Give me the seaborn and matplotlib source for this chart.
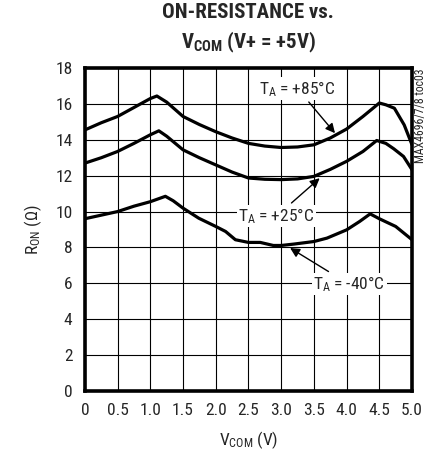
import pandas as pd
import seaborn as sns
import matplotlib.pyplot as plt

v_85 = [0, 0.25, 0.5, 0.75, 1.0, 1.1, 1.25, 1.5, 1.75, 2.0, 2.25, 2.5, 2.75, 3.0,
        3.25, 3.5, 3.75, 4.0, 4.25, 4.5, 4.6, 4.73, 4.88, 5.0]
r_85 = [14.55, 14.95, 15.3, 15.8, 16.3, 16.44, 16.1, 15.3, 14.85, 14.45, 14.1, 13.8,
        13.65, 13.57, 13.6, 13.72, 14.1, 14.6, 15.3, 16.05, 15.95, 15.76, 14.83, 13.72]

v_25 = [0, 0.25, 0.5, 0.75, 1.0, 1.13, 1.25, 1.5, 1.75, 2.0, 2.25, 2.5, 2.75, 3.0,
        3.25, 3.5, 3.75, 4.0, 4.25, 4.46, 4.6, 4.72, 4.87, 5.0]
r_25 = [12.7, 13.0, 13.35, 13.8, 14.28, 14.5, 14.2, 13.44, 13.0, 12.6, 12.2, 11.87,
        11.8, 11.78, 11.82, 11.96, 12.35, 12.8, 13.35, 13.96, 13.8, 13.5, 13.07, 12.33]

v_m40 = [0, 0.25, 0.5, 0.75, 1.0, 1.23, 1.35, 1.5, 1.74, 2.0, 2.15, 2.3, 2.5, 2.68,
         2.88, 3.0, 3.2, 3.5, 3.7, 4.0, 4.2, 4.36, 4.5, 4.75, 5.0]
r_m40 = [9.6, 9.8, 10.0, 10.3, 10.55, 10.85, 10.6, 10.19, 9.63, 9.17, 8.89, 8.43, 8.28,
         8.28, 8.11, 8.11, 8.19, 8.33, 8.52, 8.98, 9.45, 9.87, 9.6, 9.17, 8.43]

x_ticks = [0, 0.5, 1.0, 1.5, 2.0, 2.5, 3.0, 3.5, 4.0, 4.5, 5.0]
x_tick_labels = ['0', '0.5', '1.0', '1.5', '2.0', '2.5', '3.0', '3.5', '4.0', '4.5', '5.0']
y_ticks = [0, 2, 4, 6, 8, 10, 12, 14, 16, 18]

df = pd.concat([
    pd.DataFrame({'V': v_85, 'R': r_85, 'T': '+85'}),
    pd.DataFrame({'V': v_25, 'R': r_25, 'T': '+25'}),
    pd.DataFrame({'V': v_m40, 'R': r_m40, 'T': '-40'}),
])

sns.set_style('white')
plt.rcParams['font.family'] = ['Roboto Condensed', 'DejaVu Sans']
plt.rcParams['mathtext.fontset'] = 'custom'
plt.rcParams['mathtext.rm'] = 'Roboto Condensed'
plt.rcParams['mathtext.it'] = 'Roboto Condensed'
plt.rcParams['mathtext.bf'] = 'Roboto Condensed:bold'
plt.rcParams['mathtext.default'] = 'regular'

fig = plt.figure(figsize=(4.31, 4.55), dpi=100)
ax = fig.add_axes([0.197, 0.1407, 0.759, 0.7098])

for t in ['+85', '+25', '-40']:
    sns.lineplot(x='V', y='R', data=df[df['T'] == t], ax=ax, color='black',
                 linewidth=2.3, sort=False, estimator=None)

ax.set_xlim(0, 5)
ax.set_ylim(0, 18)
ax.set_xticks(x_ticks)
ax.set_xticklabels(x_tick_labels)
ax.set_yticks(y_ticks)
ax.grid(True, color='black', linewidth=0.8)
ax.tick_params(length=0, labelsize=12.5, pad=9)
for s in ax.spines.values():
    s.set_linewidth(2.6)
    s.set_color('black')

ax.set_xlabel('V$_{COM}$ (V)', fontsize=12.5, labelpad=8)
ax.set_ylabel('R$_{ON}$ ($\\Omega$)', fontsize=12.5, labelpad=8)

fig.text(0.576, 0.972, 'ON-RESISTANCE vs.', ha='center', va='center',
         fontsize=15, fontweight='bold')
fig.text(0.576, 0.907, 'V$_{\\mathbf{COM}}$ (V+ = +5V)', ha='center', va='center',
         fontsize=15, fontweight='bold')
fig.text(0.975, 0.85, 'MAX4696/7/8 toc03', rotation=90, ha='center', va='top', fontsize=8.5)

box = dict(facecolor='white', edgecolor='none', pad=1)
arrow = dict(arrowstyle='-|>', color='black', linewidth=1, mutation_scale=14)
ax.annotate('T$_A$ = +85°C', xy=(3.85, 14.25), xytext=(3.25, 16.85), fontsize=12.5,
            ha='center', va='center', bbox=box, arrowprops=arrow)
ax.annotate('T$_A$ = +25°C', xy=(3.62, 11.96), xytext=(2.93, 9.75), fontsize=12.5,
            ha='center', va='center', bbox=box, arrowprops=arrow)
ax.annotate('T$_A$ = -40°C', xy=(3.1, 8.05), xytext=(4.04, 5.95), fontsize=12.5,
            ha='center', va='center', bbox=box, arrowprops=arrow)

plt.savefig('out.png', dpi=100)
